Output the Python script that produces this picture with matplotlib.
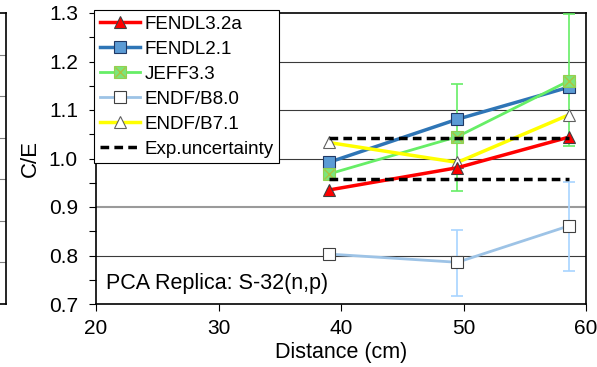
import matplotlib
matplotlib.use("Agg")
import matplotlib.pyplot as plt
from matplotlib.legend_handler import HandlerTuple

plt.rcParams['font.family'] = ['Liberation Sans', 'DejaVu Sans']

# distances of the three foils (cm)
distance = [39.0, 49.5, 58.6]

fendl32a = [0.935, 0.981, 1.044]
fendl21 = [0.992, 1.081, 1.147]
jeff33 = [0.968, 1.045, 1.160]
jeff33_lo = [0.0, 0.111, 0.134]
jeff33_hi = [0.0, 0.109, 0.137]
endfb80 = [0.803, 0.786, 0.861]
endfb80_lo = [0.0, 0.069, 0.092]
endfb80_hi = [0.0, 0.067, 0.091]
endfb71 = [1.033, 0.992, 1.090]
exp_upper = [1.043, 1.043, 1.043]
exp_lower = [0.957, 0.957, 0.957]

W, H = 597, 367
fig = plt.figure(figsize=(W / 100, H / 100), dpi=100)

# neighbouring panel, only its right edge shows
side = fig.add_axes([-0.3, 63 / H, 0.3 + 6 / W, 291 / H])
side.set_xlim(0, 1)
side.set_ylim(0, 7)
for k in range(1, 7):
    side.axhline(k, color='#808080', lw=0.8)
side.set_xticks([])
side.set_yticks([])
for s in side.spines.values():
    s.set_linewidth(1.2)

ax = fig.add_axes([96 / W, 63 / H, 490 / W, 291 / H])
ax.set_xlim(20, 60)
ax.set_ylim(0.7, 1.3)

for g in [0.8, 1.0, 1.1, 1.2]:
    ax.axhline(g, color='#3a3a3a', lw=0.8, zorder=1)
ax.axhline(0.9, color='#9a9a9a', lw=1.5, zorder=1)

l1, = ax.plot(distance, fendl32a, color='#ff0000', lw=2.5, marker='^', ms=8,
              mfc='#ff0000', mec='#404040', mew=0.8, zorder=5)
l2, = ax.plot(distance, fendl21, color='#2e75b6', lw=2.5, marker='s', ms=9,
              mfc='#5b9bd5', mec='#203864', mew=0.8, zorder=4)
ax.errorbar(distance, jeff33, yerr=[jeff33_lo, jeff33_hi], fmt='none',
            ecolor='#66ee66', elinewidth=1.2, capsize=4, capthick=1.2, zorder=3)
l3, = ax.plot(distance, jeff33, color='#66ee66', lw=2, marker='s', ms=8,
              mfc='#7be67b', mec='#92d050', mew=0.8, zorder=4)
l3x, = ax.plot(distance, jeff33, ls='none', marker='x', ms=7,
               mec='#b0c040', mew=1, zorder=4)
ax.errorbar(distance, endfb80, yerr=[endfb80_lo, endfb80_hi], fmt='none',
            ecolor='#a8d4ff', elinewidth=1.2, capsize=4, capthick=1.2, zorder=3)
l4, = ax.plot(distance, endfb80, color='#9dc3e6', lw=2, marker='s', ms=8,
              mfc='white', mec='#404040', mew=0.8, zorder=4)
l5, = ax.plot(distance, endfb71, color='#ffff00', lw=2.5, marker='^', ms=8,
              mfc='white', mec='#606060', mew=0.8, zorder=4)
l6, = ax.plot(distance, exp_upper, color='black', lw=2.5, ls=(0, (2.5, 1.5)), zorder=6)
ax.plot(distance, exp_lower, color='black', lw=2.5, ls=(0, (2.5, 1.5)), zorder=6)

ax.set_yticks([0.7, 0.8, 0.9, 1.0, 1.1, 1.2, 1.3])
ax.set_yticklabels(['0.7', '0.8', '0.9', '1.0', '1.1', '1.2', '1.3'])
ax.set_yticks([0.75, 0.85, 0.95, 1.05, 1.15, 1.25], minor=True)
ax.set_xticks([20, 30, 40, 50, 60])
ax.tick_params(axis='both', which='major', direction='out', length=5,
               width=0.8, labelsize=15)
ax.tick_params(axis='y', which='major', pad=8)
ax.tick_params(axis='x', which='major', pad=6)
ax.tick_params(axis='y', which='minor', direction='out', length=5, width=0.8)
for s in ax.spines.values():
    s.set_linewidth(1.2)

ax.set_ylabel('C/E', fontsize=16, labelpad=6)
ax.set_xlabel('Distance (cm)', fontsize=15.5, labelpad=3)

ax.text(0.02, 0.072, 'PCA Replica: S-32(n,p)', transform=ax.transAxes,
        fontsize=15.5, va='center', ha='left')

leg = fig.legend([l1, l2, (l3, l3x), l4, l5, l6],
                 ['FENDL3.2a', 'FENDL2.1', 'JEFF3.3', 'ENDF/B8.0', 'ENDF/B7.1',
                  'Exp.uncertainty'],
                 handler_map={tuple: HandlerTuple(ndivide=1)},
                 loc='upper left', bbox_to_anchor=(94 / W, 1 - 10 / H),
                 borderaxespad=0, fontsize=13.5, frameon=True, fancybox=False,
                 framealpha=1, edgecolor='black', handlelength=2.15,
                 handletextpad=0.25, labelspacing=0.42, borderpad=0.3)
leg.get_frame().set_linewidth(0.8)
leg.set_zorder(10)

fig.savefig('out.png', dpi=100)
